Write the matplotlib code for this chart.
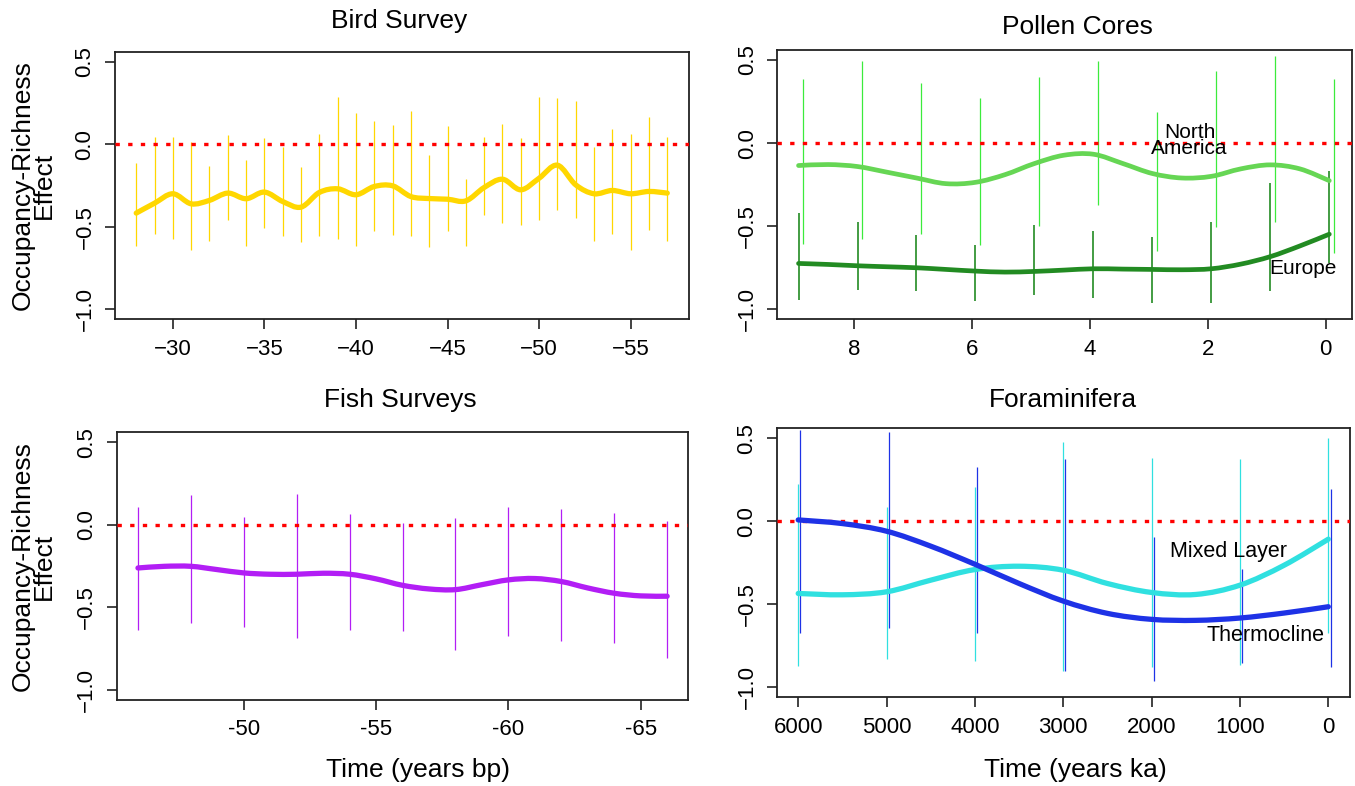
import matplotlib
matplotlib.use("Agg")
import matplotlib.pyplot as plt
from matplotlib.path import Path
from matplotlib.patches import PathPatch

plt.rcParams['font.family'] = ['Liberation Sans', 'DejaVu Sans']

# ---- Bird Survey ----
bird_years = [-28, -29, -30, -31, -32, -33, -34, -35, -36, -37, -38, -39, -40, -41, -42,
              -43, -44, -45, -46, -47, -48, -49, -50, -51, -52, -53, -54, -55, -56, -57]
bird_fit = [-0.417, -0.357, -0.300, -0.361, -0.340, -0.296, -0.330, -0.290, -0.347, -0.381,
            -0.292, -0.270, -0.306, -0.256, -0.252, -0.317, -0.329, -0.333, -0.343, -0.262,
            -0.212, -0.276, -0.206, -0.127, -0.246, -0.300, -0.280, -0.300, -0.286, -0.296]
bird_hi = [-0.111, 0.046, 0.042, 0.016, -0.131, 0.058, -0.095, 0.038, -0.014, -0.135,
           0.060, 0.284, 0.188, 0.139, 0.115, 0.204, -0.065, 0.113, -0.212, 0.042,
           0.123, 0.040, 0.288, 0.278, 0.264, -0.014, 0.095, 0.063, 0.163, 0.042]
bird_lo = [-0.619, -0.542, -0.575, -0.643, -0.585, -0.458, -0.615, -0.510, -0.554, -0.595,
           -0.558, -0.573, -0.619, -0.528, -0.548, -0.554, -0.623, -0.528, -0.615, -0.431,
           -0.478, -0.488, -0.458, -0.397, -0.444, -0.585, -0.544, -0.643, -0.522, -0.585]

# ---- Pollen Cores ----
eu_x = [8.94, 7.94, 6.94, 5.94, 4.94, 3.94, 2.94, 1.94, 0.94, -0.06]
eu_hi = [-0.421, -0.472, -0.552, -0.613, -0.492, -0.526, -0.567, -0.472, -0.240, -0.169]
eu_lo = [-0.942, -0.885, -0.889, -0.952, -0.915, -0.931, -0.960, -0.962, -0.889, -0.720]
na_x = [8.86, 7.86, 6.86, 5.86, 4.86, 3.86, 2.86, 1.86, 0.86, -0.14]
na_hi = [0.385, 0.492, 0.361, 0.270, 0.395, 0.492, 0.190, 0.431, 0.526, 0.385]
na_lo = [-0.607, -0.577, -0.548, -0.613, -0.496, -0.375, -0.647, -0.502, -0.472, -0.663]
pollen_fit_x = [8.94, 8.44, 7.94, 7.44, 6.94, 6.44, 5.94, 5.44, 4.94, 4.44,
                3.94, 3.44, 2.94, 2.44, 1.94, 1.44, 0.94, 0.44, -0.06]
na_fit = [-0.135, -0.129, -0.141, -0.175, -0.210, -0.244, -0.236, -0.190, -0.123, -0.073,
          -0.067, -0.123, -0.183, -0.210, -0.200, -0.155, -0.131, -0.155, -0.226]
eu_fit = [-0.724, -0.730, -0.738, -0.744, -0.750, -0.760, -0.770, -0.776, -0.772, -0.764,
          -0.756, -0.758, -0.760, -0.762, -0.756, -0.728, -0.683, -0.619, -0.548]

# ---- Fish Surveys ----
fish_x = [-46, -48, -50, -52, -54, -56, -58, -60, -62, -64, -66]
fish_hi = [0.109, 0.178, 0.046, 0.184, 0.063, 0.012, 0.040, 0.107, 0.093, 0.073, 0.022]
fish_lo = [-0.638, -0.594, -0.618, -0.685, -0.634, -0.644, -0.756, -0.675, -0.705, -0.715, -0.806]
fish_fit_x = [-46, -47, -48, -49, -50, -51, -52, -53, -54, -55, -56,
              -57, -58, -59, -60, -61, -62, -63, -64, -65, -66]
fish_fit = [-0.261, -0.251, -0.251, -0.271, -0.291, -0.299, -0.299, -0.293, -0.299, -0.327,
            -0.366, -0.388, -0.392, -0.362, -0.333, -0.325, -0.343, -0.382, -0.414, -0.430, -0.432]

# ---- Foraminifera ----
mix_x = [6000, 5000, 4000, 3000, 2000, 1000, 0]
mix_hi = [0.226, 0.086, 0.206, 0.477, 0.383, 0.377, 0.503]
mix_lo = [-0.872, -0.832, -0.840, -0.900, -0.876, -0.866, -0.675]
thm_x = [5975, 4975, 3975, 2975, 1975, 975, -25]
thm_hi = [0.550, 0.537, 0.327, 0.377, -0.094, -0.285, 0.196]
thm_lo = [-0.675, -0.645, -0.675, -0.900, -0.960, -0.852, -0.876]
foram_fit_x = [6000, 5500, 5000, 4500, 4000, 3500, 3000, 2500, 2000, 1500, 1000, 500, 0]
thm_fit = [0.008, -0.014, -0.060, -0.150, -0.259, -0.375, -0.481, -0.555, -0.591, -0.597,
           -0.583, -0.553, -0.515]
mix_fit = [-0.435, -0.443, -0.425, -0.355, -0.291, -0.271, -0.295, -0.375, -0.429, -0.441,
           -0.385, -0.265, -0.108]

W, H = 1355, 786
fig = plt.figure(figsize=(W / 100, H / 100), dpi=100)


def add_box(left, right, top, bottom):
    return fig.add_axes([left / W, 1 - bottom / H, (right - left) / W, (bottom - top) / H])


def style(ax, xlim, xticks, xlabels):
    ax.set_xlim(*xlim)
    ax.set_ylim(-1.06, 0.56)
    ax.set_xticks(xticks, xlabels)
    ax.set_yticks([-1.0, -0.5, 0.0, 0.5], ['\u22121.0', '\u22120.5', '0.0', '0.5'],
                  rotation=90, va='center')
    ax.tick_params(length=7, width=1.2, pad=7, labelsize=16, color='#222222')
    for s in ax.spines.values():
        s.set_linewidth(1.3)
        s.set_color('#222222')
    ax.axhline(0, color='#ff0000', lw=2.4, ls=(0, (1.3, 2.5)), zorder=3)


def fit_line(ax, x, y, color, lw=3.8):
    # smooth curve through the read points (cubic Bezier segments)
    verts = [(x[0], y[0])]
    codes = [Path.MOVETO]
    n = len(x)
    for i in range(n - 1):
        xa, ya = (x[i - 1], y[i - 1]) if i > 0 else (x[i], y[i])
        xb, yb = (x[i + 2], y[i + 2]) if i + 2 < n else (x[i + 1], y[i + 1])
        verts.append((x[i] + (x[i + 1] - xa) / 6, y[i] + (y[i + 1] - ya) / 6))
        verts.append((x[i + 1] - (xb - x[i]) / 6, y[i + 1] - (yb - y[i]) / 6))
        verts.append((x[i + 1], y[i + 1]))
        codes += [Path.CURVE4] * 3
    ax.add_patch(PathPatch(Path(verts, codes), fill=False, edgecolor=color, lw=lw,
                           capstyle='round', joinstyle='round', zorder=4))


# Bird
ax1 = add_box(115, 688.5, 51.7, 319.3)
ax1.vlines(bird_years, bird_lo, bird_hi, color='#FFD700', lw=0.9, zorder=2)
style(ax1, (-26.84, -58.16), [-30, -35, -40, -45, -50, -55],
      ['\u221230', '\u221235', '\u221240', '\u221245', '\u221250', '\u221255'])
fit_line(ax1, bird_years, bird_fit, '#FFD700')

# Pollen
ax2 = add_box(777.3, 1351.7, 50, 319.3)
ax2.vlines(na_x, na_lo, na_hi, color='#3CEB3C', lw=0.9, zorder=2)
ax2.vlines(eu_x, eu_lo, eu_hi, color='#228B22', lw=1.2, zorder=2)
style(ax2, (9.30, -0.44), [8, 6, 4, 2, 0], ['8', '6', '4', '2', '0'])
fit_line(ax2, pollen_fit_x, na_fit, '#66D654', lw=3.4)
fit_line(ax2, pollen_fit_x, eu_fit, '#228B22', lw=3.4)
ax2.text(2.31, 0.015, 'North\nAmerica', ha='center', va='center', fontsize=15,
         linespacing=0.8, zorder=5)
ax2.text(0.39, -0.754, 'Europe', ha='center', va='center', fontsize=15, zorder=5)

# Fish
ax3 = add_box(116.8, 688.3, 432.3, 700)
ax3.vlines(fish_x, fish_lo, fish_hi, color='#B21EF5', lw=0.9, zorder=2)
style(ax3, (-45.2, -66.8), [-50, -55, -60, -65], ['-50', '-55', '-60', '-65'])
fit_line(ax3, fish_fit_x, fish_fit, '#B21EF5')

# Foraminifera
ax4 = add_box(777, 1349.5, 428.3, 697.2)
ax4.vlines(mix_x, mix_lo, mix_hi, color='#30E0E0', lw=0.9, zorder=2)
ax4.vlines(thm_x, thm_lo, thm_hi, color='#1E32E6', lw=0.9, zorder=2)
style(ax4, (6240, -240), [6000, 5000, 4000, 3000, 2000, 1000, 0],
      ['6000', '5000', '4000', '3000', '2000', '1000', '0'])
fit_line(ax4, foram_fit_x, mix_fit, '#30E0E0')
fit_line(ax4, foram_fit_x, thm_fit, '#1E32E6')
ax4.text(1126, -0.18, 'Mixed Layer', ha='center', va='center', fontsize=15.5, zorder=5)
ax4.text(716, -0.69, 'Thermocline', ha='center', va='center', fontsize=15.5, zorder=5)


# titles and labels in figure pixels
def ftext(x, y, s, **kw):
    fig.text(x / W, 1 - y / H, s, ha='center', va='center', **kw)


ftext(399, 21, 'Bird Survey', fontsize=19)
ftext(1077, 27, 'Pollen Cores', fontsize=19)
ftext(400, 400, 'Fish Surveys', fontsize=19)
ftext(1063, 400, 'Foraminifera', fontsize=19)
ftext(418, 770, 'Time (years bp)', fontsize=19)
ftext(1075, 770, 'Time (years ka)', fontsize=19)
ftext(33, 185.5, 'Occupancy-Richness\nEffect', fontsize=19, rotation=90, linespacing=0.85)
ftext(33, 566, 'Occupancy-Richness\nEffect', fontsize=19, rotation=90, linespacing=0.85)

fig.savefig('out.png', dpi=100)
